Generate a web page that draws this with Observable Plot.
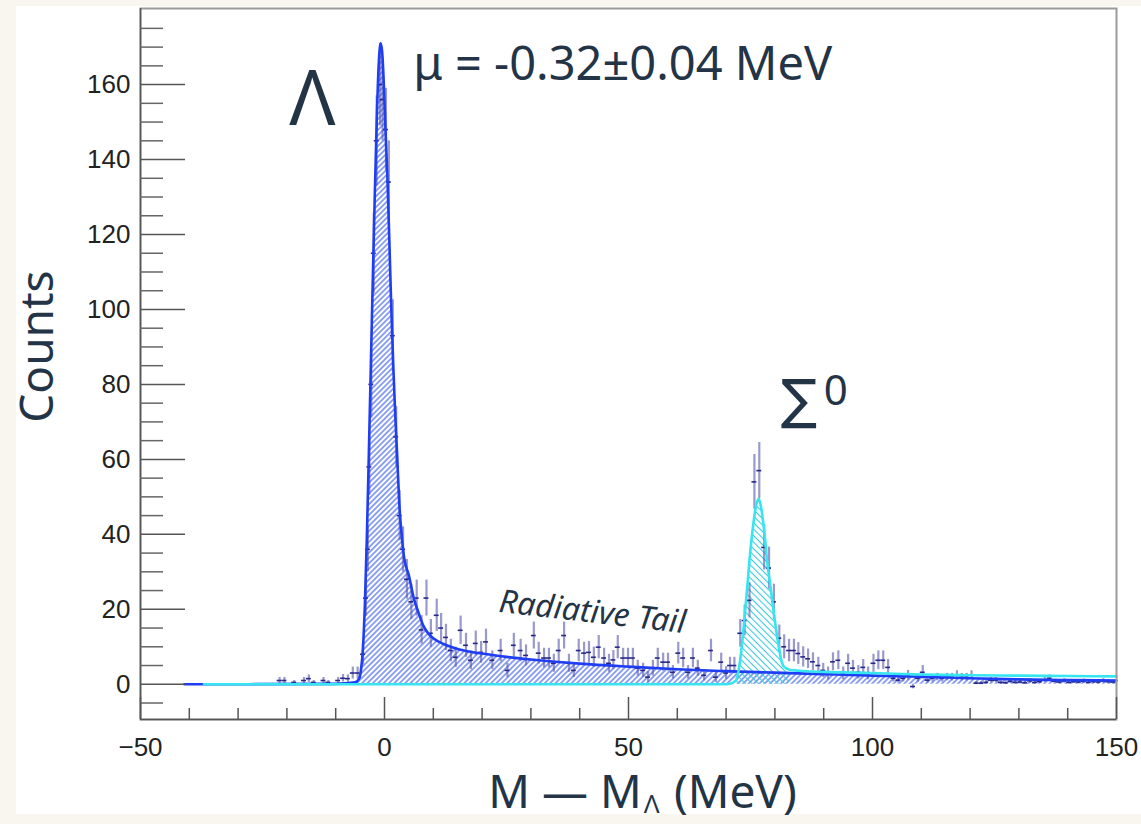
<!DOCTYPE html>
<html><head><meta charset="utf-8">
<script src="https://cdn.jsdelivr.net/npm/d3@7"></script>
<script src="https://cdn.jsdelivr.net/npm/@observablehq/plot@0.6"></script>
<style>
html,body{margin:0;padding:0;background:#f9f5ef;}
#wrap{position:relative;width:1141px;height:824px;overflow:hidden;background:#f9f5ef;}
#panel{position:absolute;left:16px;top:6px;width:1125px;height:808px;background:#fff;}
#chart{position:absolute;left:0;top:0;}
</style></head><body>
<div id="wrap"><div id="panel"></div><div id="chart"></div></div>
<script>
// ---- Histogram bins (bin centre, counts, error) ----
const binX = [
 -21.5,-20.5,-18.5,-16.5,-15.5,-14.5,-12.5,-11.5,-9.5,-8.5,-7.5,-6.5,-5.5,
 -4.4,-3.8,-3.4,-3.1,-2.7,-2.2,-1.6,-0.9,-0.4,0.3,0.9,1.7,2.4,3.1,3.8,4.6,5.5,6.6,7.6,8.6,9.5,10.7,11.6,12.6,13.6,14.6,15.6,16.7,17.7,18.7,
 19.8,20.8,22.1,23.8,25.2,26.5,27.9,29,30.6,31.6,32.7,33.7,34.7,35.7,36.8,37.8,38.8,39.8,40.9,41.9,42.9,43.9,45,46,46.9,47.8,48.9,49.9,50.9,51.9,53,54,55,56,57.1,58.1,59.1,60.2,61.2,62.2,63.2,64.2,65.5,66.9,67.9,69,70,70.8,71.7,
 72.9,73.8,74.8,75.8,76.8,77.8,78.8,79.8,80.9,81.9,82.9,83.9,84.8,85.8,86.8,87.8,88.9,89.9,90.9,91.9,93,94,95,96,97.1,98.1,99.1,100.2,101.2,102.2,103.2,104.3,105.3,106.3,107.3,108.3,109.3,110.3,
 111.3,112.3,113.3,114.3,115.3,116.3,117.3,118.3,119.3,120.3,121.3,122.3,123.3,124.3,125.3,126.3,127.3,128.3,129.3,130.3,131.3,132.3,133.3,134.3,135.3,136.3,137.3,138.3,139.3,140.3,141.3,142.3,143.3,144.3,145.3,146.3,147.3,148.3,149.3
];
const binCount = [
 1,1,0.5,1,1.5,0.5,1,0.5,1,1.6,1.5,3,3,
 8,23,36,58,80,115,145,160,156,148,134,93,66,45,36,28,22,23,14.5,23,13.6,18.4,15,12.5,9,7.2,14.4,10.4,6.4,10.9,
 8.5,11.3,6.4,9,3.7,10.4,9,7.7,13,8.3,7,7,5.6,9,13,5.6,3.7,9,8.3,8.5,7.2,9.9,7,5.6,6.5,9.9,7,7,7,4.3,3.7,1.9,4.3,7,5.9,5.9,3.2,8.3,7,3.2,7,4.3,2.4,9,1.9,5.9,3,5,5,
 13.6,17,22.4,54,57,36.5,31,22,12.3,10,9,9,8.2,7.3,6.8,6,5,3.7,2.9,6,6.4,2.9,5.6,4.3,3.2,4.5,2.9,5.6,6.4,6.4,4.5,1.6,1.1,1.6,2.4,-0.6,1.6,3.2,
 1.1,1.6,1.9,1.6,1.9,1.9,2.4,1.9,1.9,2.4,0.3,0.3,0.5,1.1,1.1,0.5,0.4,0.8,0.5,0.6,0.4,0.9,0.5,0.7,1.2,1.6,0.8,0.6,0.9,0.5,0.7,0.6,0.8,0.5,0.7,0.6,0.9,0.7,0.6
];
const binErr = [
 0.8,0.8,0.5,0.8,1,0.5,0.8,0.5,0.8,1,1,1.6,1.6,
 2.8,4.8,6,7.6,9,10.7,12,11,11,11,11,9.6,8.1,6.7,6,5.3,4.7,4.8,3.8,4.8,3.7,4.3,3.9,3.5,3,2.7,3.8,3.2,2.5,3.3,
 2.9,3.4,2.5,3,1.9,3.2,3,2.8,3.6,2.9,2.6,2.6,2.4,3,3.6,2.4,1.9,3,2.9,2.9,2.7,3.1,2.6,2.4,2.5,3.1,2.6,2.6,2.6,2.1,1.9,1.4,2.1,2.6,2.4,2.4,1.8,2.9,2.6,1.8,2.6,2.1,1.5,3,1.4,2.4,1.7,2.2,2.2,
 3.7,4.1,4.7,7.3,7.5,6,5.6,4.7,3.5,3.2,3,3,2.9,2.7,2.6,2.4,2.2,1.9,1.7,2.4,2.5,1.7,2.4,2.1,1.8,2.1,1.7,2.4,2.5,2.5,2.1,1,0.8,1,1.3,0.6,1,1.8,
 0.8,1,1,1,1,1,1.2,1,1,1.2,0.4,0.4,0.5,0.7,0.7,0.5,0.4,0.6,0.5,0.5,0.4,0.6,0.5,0.5,0.7,0.9,0.5,0.5,0.6,0.4,0.5,0.5,0.6,0.4,0.5,0.5,0.6,0.5,0.5
];
const binHalfWidth = 0.5;

// ---- Fit curves ----
const lambdaFitX = [-41,-10,-6,-5.2,-4.8,-4.4,-4,-3.6,-3.2,-2.8,-2.4,-2,-1.6,-1.2,-0.8,-0.5,-0.2,0.2,0.6,1,1.4,1.8,2.2,2.6,3,3.5,4,5,6,7,8,9,10,12,14,17,20,25,30,35,40,50,60,70,80,90,100,110,120,130,140,150];
const lambdaFitY = [0,0.1,0.5,1.5,4,10,22,40,62,85,108,130,150,165,171,169,162,148,135,118,100,85,72,61,49,40,34,29,23,19,15.5,13.5,12.3,10.8,9.8,8.8,8.2,7.3,6.6,6,5.5,4.7,4,3.5,3.1,2.7,2.3,2,1.6,1.3,1.1,1];
const sigmaFitX = [-37,70,71,72,72.6,73.2,73.8,74.4,75,75.6,76.2,76.7,77.2,77.8,78.4,79,79.6,80.2,80.8,81.4,82,83,85,90,100,110,120,130,140,150];
const sigmaFitY = [0,0,0.2,1,4,10,18,27,36,43,48,49.5,47,41,33,27,21,15,10,6,4.5,3.9,3.6,3.3,3,2.6,2.4,2.3,2.2,2.1];

// ---- Axes ----
const xMajorTicks = [-50,0,50,100,150];
const xMinorTicks = [-40,-30,-20,-10,10,20,30,40,60,70,80,90,110,120,130,140];
const yMajorTicks = [0,20,40,60,80,100,120,140,160];
const yMinorTicks = [-5,5,10,15,25,30,35,45,50,55,65,70,75,85,90,95,105,110,115,125,130,135,145,150,155,165,170,175];
const xDomain = [-50,150];
const yDomain = [-9.4,180.3];

const points = binX.map((x,i)=>({x, count: binCount[i], err: binErr[i]}));
const lambdaCurve = lambdaFitX.map((x,i)=>({x, y: lambdaFitY[i]}));
const sigmaCurve = sigmaFitX.map((x,i)=>({x, y: sigmaFitY[i]}));
const sigmaPeak = sigmaCurve.filter(d => d.x >= 70 && d.x <= 84);

const W = 1141, H = 824, mL = 140, mR = 25, mT = 8, mB = 105;
const fw = W - mL - mR, fh = H - mT - mB;
const ink = "#243447";
const sans = "'Noto Sans','Open Sans',sans-serif";
const tickFont = "'Liberation Sans',Arial,sans-serif";
const fmt = d => d < 0 ? "\u2212" + Math.abs(d) : String(d);

const svg = Plot.plot({
  width: W, height: H, marginLeft: mL, marginRight: mR, marginTop: mT, marginBottom: mB,
  style: {background: "transparent", overflow: "visible"},
  x: {domain: xDomain, axis: null},
  y: {domain: yDomain, axis: null},
  marks: [
    Plot.areaY(lambdaCurve.filter(d => d.x >= -6), {x: "x", y: "y", fill: "url(#hatchBlue)", curve: "monotone-x"}),
    Plot.areaY(sigmaPeak, {x: "x", y: "y", fill: "url(#hatchCyan)", curve: "monotone-x"}),
    Plot.ruleX(points, {x: "x", y1: d => d.count - d.err, y2: d => d.count + d.err, stroke: "#5555a8", strokeOpacity: 0.6, strokeWidth: 2.2}),
    Plot.ruleY(points, {y: "count", x1: d => d.x - binHalfWidth, x2: d => d.x + binHalfWidth, stroke: "#26268a", strokeWidth: 1.6}),
    Plot.line(lambdaCurve, {x: "x", y: "y", stroke: "#1f3df2", strokeWidth: 2.6, curve: "monotone-x"}),
    Plot.line(sigmaCurve, {x: "x", y: "y", stroke: "#35e5f0", strokeWidth: 2.6, curve: "monotone-x"}),
    Plot.frame({stroke: "#9a9a9a", strokeWidth: 2}),
    Plot.ruleX([xDomain[0]], {stroke: "#555", strokeWidth: 1.5}),
    Plot.ruleY([yDomain[0]], {stroke: "#555", strokeWidth: 1.5}),
    Plot.tickY(yMajorTicks, {y: d => d, insetRight: fw - 45, stroke: "#555", strokeWidth: 1.5}),
    Plot.tickY(yMinorTicks, {y: d => d, insetRight: fw - 23, stroke: "#666", strokeWidth: 1.5}),
    Plot.tickX(xMajorTicks, {x: d => d, insetTop: fh - 22, stroke: "#555", strokeWidth: 1.5}),
    Plot.tickX(xMinorTicks, {x: d => d, insetTop: fh - 11, stroke: "#555", strokeWidth: 1.5}),
    Plot.text(yMajorTicks, {y: d => d, text: d => fmt(d), frameAnchor: "left", dx: -10, textAnchor: "end", fontSize: 26, fontFamily: tickFont, fill: "#222"}),
    Plot.text(xMajorTicks, {x: d => d, text: d => fmt(d), frameAnchor: "bottom", dy: 18, lineAnchor: "top", fontSize: 26, fontFamily: tickFont, fill: "#222"}),
    // annotations
    Plot.text(["\u039B"], {x: -14.8, y: 149.1, text: d => d, lineAnchor: "bottom", fontSize: 76, fontFamily: sans, fill: ink}),
    Plot.text(["\u03BC = -0.32\u00B10.04 MeV"], {x: 5.9, y: 161.1, text: d => d, textAnchor: "start", lineAnchor: "bottom", fontSize: 47, fontFamily: sans, fill: ink}),
    Plot.text(["\u2211"], {x: 85.0, y: 71.0, text: d => d, lineAnchor: "bottom", fontSize: 54, fontFamily: "'DejaVu Sans',sans-serif", fill: ink}),
    Plot.text(["0"], {x: 90.0, y: 74.4, text: d => d, textAnchor: "start", lineAnchor: "bottom", fontSize: 42, fontFamily: sans, fill: ink}),
    Plot.text(["Radiative Tail"], {x: 42.6, y: 19.2, text: d => d, rotate: 6.5, fontSize: 32, fontStyle: "italic", fontFamily: sans, fill: ink}),
    // axis titles
    Plot.text(["Counts"], {x: -68.0, y: 90.1, text: d => d, rotate: -90, lineAnchor: "bottom", fontSize: 46, fontFamily: sans, fill: ink}),
    Plot.text(["M \u2014 M"], {x: 52.7, y: -33.1, text: d => d, textAnchor: "end", lineAnchor: "bottom", fontSize: 46, fontFamily: sans, fill: ink}),
    Plot.text(["\u039B"], {x: 53.1, y: -34.4, text: d => d, textAnchor: "start", lineAnchor: "bottom", fontSize: 26, fontFamily: sans, fill: ink}),
    Plot.text(["(MeV)"], {x: 59.3, y: -33.1, text: d => d, textAnchor: "start", lineAnchor: "bottom", fontSize: 46, fontFamily: sans, fill: ink})
  ]
});

// hatch patterns (styling for the filled areas)
const defs = d3.select(svg).insert("defs", ":first-child");
const pb = defs.append("pattern").attr("id", "hatchBlue").attr("patternUnits", "userSpaceOnUse")
  .attr("width", 3.8).attr("height", 3.8).attr("patternTransform", "rotate(45)");
pb.append("line").attr("x1", 1.9).attr("y1", -1).attr("x2", 1.9).attr("y2", 4.8).attr("stroke", "#4666e6").attr("stroke-width", 1.2);
const pc = defs.append("pattern").attr("id", "hatchCyan").attr("patternUnits", "userSpaceOnUse")
  .attr("width", 4.6).attr("height", 4.6).attr("patternTransform", "rotate(-45)");
pc.append("line").attr("x1", 2.3).attr("y1", -1).attr("x2", 2.3).attr("y2", 5.6).attr("stroke", "#3cc8dc").attr("stroke-width", 1.1);

document.getElementById("chart").appendChild(svg);
</script>
</body></html>
